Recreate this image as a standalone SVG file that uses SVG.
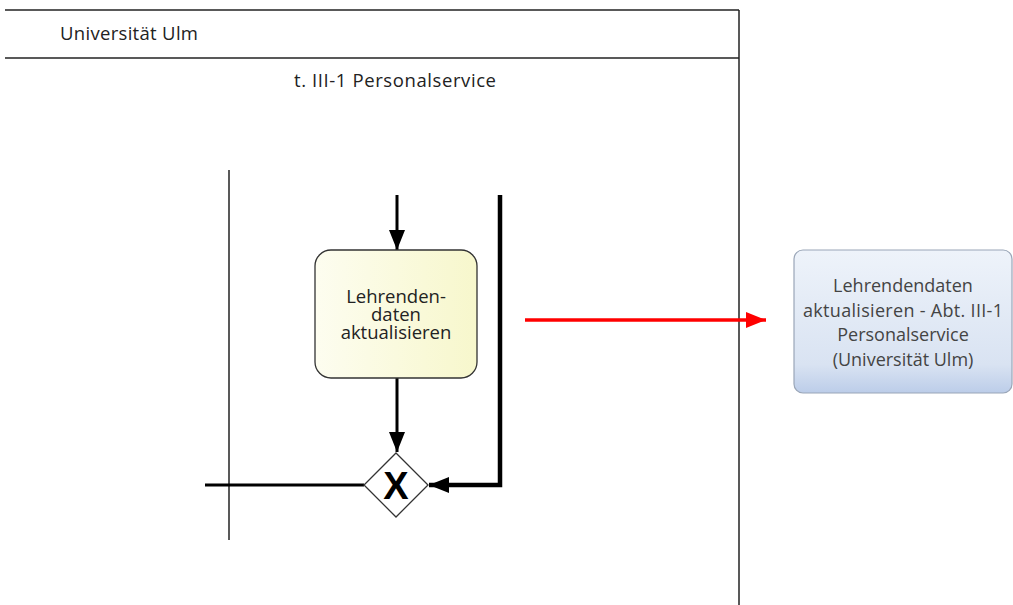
<svg xmlns="http://www.w3.org/2000/svg" width="1013" height="605" viewBox="0 0 1013 605">
<style>
.t{font-family:"Open Sans","Noto Sans",sans-serif;font-size:18.5px;fill:#222}
.m{text-anchor:middle}
.b{font-family:"Open Sans","Noto Sans",sans-serif;font-size:18px;fill:#444;text-anchor:middle}
.thin{stroke:#222;stroke-width:1.5;fill:none}
.flow{stroke:#000;stroke-width:3;fill:none}
</style>
<defs>
<linearGradient id="gy" x1="0" y1="0" x2="1" y2="0">
<stop offset="0" stop-color="#fdfdf0"/><stop offset="1" stop-color="#f7f7cc"/>
</linearGradient>
<linearGradient id="gb" x1="0" y1="0" x2="0" y2="1">
<stop offset="0" stop-color="#eef3fa"/><stop offset="0.8" stop-color="#d9e3f2"/><stop offset="1" stop-color="#bccde9"/>
</linearGradient>
<marker id="ahb" viewBox="0 0 20 16" refX="20" refY="8" markerWidth="20" markerHeight="16" markerUnits="userSpaceOnUse" orient="auto">
<path d="M0,0 L20,8 L0,16 z" fill="#000"/>
</marker>
<marker id="ahr" viewBox="0 0 20 16" refX="20" refY="8" markerWidth="20" markerHeight="16" markerUnits="userSpaceOnUse" orient="auto">
<path d="M0,0 L20,8 L0,16 z" fill="#f00"/>
</marker>
</defs>
<rect width="1013" height="605" fill="#fff"/>
<g id="pool">
<line class="thin" x1="5" y1="10" x2="739" y2="10"/>
<line class="thin" x1="5" y1="58" x2="739" y2="58"/>
<line class="thin" x1="739" y1="10" x2="739" y2="605"/>
<text class="t" x="60" y="40" textLength="138">Universität Ulm</text>
<text class="t" x="294" y="87" textLength="202">t. III-1 Personalservice</text>
<line class="thin" x1="229" y1="170" x2="229" y2="540"/>
</g>
<g id="connectors">
<line class="flow" x1="397" y1="195" x2="397" y2="250" marker-end="url(#ahb)"/>
<line class="flow" x1="397" y1="378" x2="397" y2="452" marker-end="url(#ahb)"/>
<line class="flow" x1="205" y1="485" x2="364" y2="485"/>
<polyline points="500,195 500,485 429,485" fill="none" stroke="#000" stroke-width="4.5" marker-end="url(#ahb)"/>
<line x1="525" y1="320" x2="766" y2="320" stroke="#f00" stroke-width="3.5" marker-end="url(#ahr)"/>
</g>
<g id="task">
<rect x="315" y="250" width="162" height="128" rx="16" fill="url(#gy)" stroke="#333" stroke-width="1.3"/>
<text class="t m" x="396" y="303">Lehrenden-</text>
<text class="t m" x="396" y="321">daten</text>
<text class="t m" x="396" y="339">aktualisieren</text>
</g>
<g id="gateway">
<polygon points="396,453 428,485 396,517 364,485" fill="#fff" stroke="#333" stroke-width="1.3"/>
<text x="396" y="499" text-anchor="middle" font-family="'Liberation Sans',Arial,sans-serif" font-weight="bold" font-size="38" fill="#000">X</text>
</g>
<g id="ref">
<rect x="794" y="250" width="218" height="143" rx="9" fill="url(#gb)" stroke="#9aa6b8" stroke-width="1.2"/>
<text class="b" x="903" y="292">Lehrendendaten</text>
<text class="b" x="903" y="317" textLength="200">aktualisieren - Abt. III-1</text>
<text class="b" x="903" y="341">Personalservice</text>
<text class="b" x="903" y="366">(Universität Ulm)</text>
</g>
</svg>
